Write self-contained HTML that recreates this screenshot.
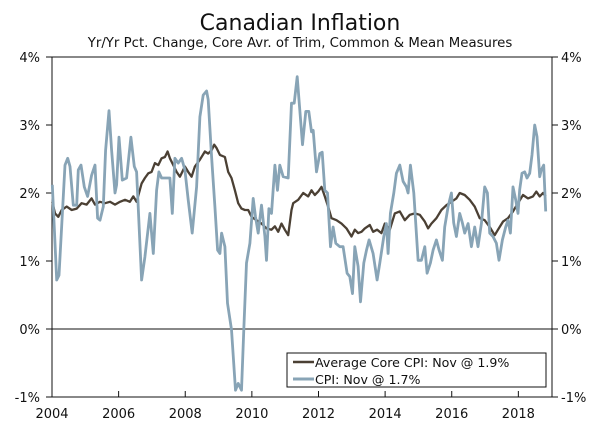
<!DOCTYPE html>
<html><head><meta charset="utf-8"><style>
body{margin:0;background:#fff;}
svg{display:block;font-family:"DejaVu Sans","Liberation Sans",sans-serif;}
</style></head><body>
<svg id="c" width="600" height="432">
<text x="300" y="30" text-anchor="middle" font-size="22" fill="#111">Canadian Inflation</text>
<text x="300" y="47" text-anchor="middle" font-size="13.3" fill="#111">Yr/Yr Pct. Change, Core Avr. of Trim, Common &amp; Mean Measures</text>
</svg>
<script>
const cpiDates=[2004.01,2004.14,2004.21,2004.39,2004.47,2004.54,2004.64,2004.74,2004.79,2004.87,2004.97,2005.07,2005.19,2005.29,2005.37,2005.44,2005.54,2005.61,2005.71,2005.79,2005.89,2005.94,2006.01,2006.11,2006.24,2006.37,2006.47,2006.54,2006.69,2006.79,2006.94,2007.04,2007.14,2007.21,2007.29,2007.54,2007.61,2007.69,2007.79,2007.89,2007.99,2008.09,2008.21,2008.34,2008.44,2008.54,2008.64,2008.69,2008.79,2008.89,2008.97,2009.04,2009.09,2009.19,2009.27,2009.39,2009.51,2009.59,2009.69,2009.76,2009.84,2009.94,2010.04,2010.11,2010.19,2010.29,2010.39,2010.44,2010.51,2010.59,2010.69,2010.77,2010.84,2010.94,2011.09,2011.19,2011.27,2011.36,2011.44,2011.52,2011.62,2011.71,2011.79,2011.84,2011.94,2012.04,2012.11,2012.19,2012.27,2012.36,2012.44,2012.52,2012.64,2012.74,2012.86,2012.94,2013.02,2013.09,2013.19,2013.26,2013.36,2013.44,2013.52,2013.64,2013.76,2013.84,2013.96,2014.04,2014.09,2014.16,2014.26,2014.34,2014.44,2014.54,2014.64,2014.69,2014.76,2014.86,2014.99,2015.09,2015.19,2015.26,2015.36,2015.44,2015.54,2015.62,2015.72,2015.79,2015.89,2015.99,2016.06,2016.14,2016.24,2016.32,2016.39,2016.49,2016.59,2016.69,2016.79,2016.89,2016.99,2017.07,2017.14,2017.24,2017.34,2017.42,2017.52,2017.62,2017.69,2017.76,2017.84,2017.92,2017.99,2018.04,2018.11,2018.19,2018.26,2018.34,2018.41,2018.49,2018.56,2018.64,2018.69,2018.76,2018.82];
const cpiValues=[2.12,0.72,0.79,2.41,2.51,2.39,1.82,1.82,2.34,2.41,2.09,1.95,2.26,2.41,1.63,1.60,1.80,2.63,3.21,2.63,2.0,2.12,2.82,2.19,2.22,2.82,2.39,2.31,0.72,1.06,1.70,1.11,2.04,2.31,2.22,2.22,1.70,2.51,2.44,2.51,2.34,1.90,1.41,2.09,3.12,3.44,3.50,3.37,2.53,1.80,1.16,1.11,1.41,1.21,0.38,-0.01,-0.90,-0.80,-0.90,0.03,0.97,1.26,1.92,1.65,1.41,1.82,1.36,1.01,1.77,1.70,2.41,2.04,2.41,2.24,2.22,3.32,3.32,3.71,3.22,2.71,3.20,3.20,2.90,2.92,2.31,2.58,2.60,2.04,2.00,1.21,1.50,1.26,1.21,1.21,0.82,0.77,0.52,1.21,0.92,0.40,0.97,1.16,1.31,1.11,0.72,0.97,1.36,1.55,1.11,1.70,2.00,2.29,2.41,2.17,2.09,2.00,2.41,2.00,1.01,1.01,1.21,0.82,0.97,1.16,1.31,1.16,1.01,1.50,1.80,2.00,1.56,1.36,1.70,1.56,1.41,1.55,1.21,1.50,1.21,1.55,2.09,2.00,1.41,1.36,1.26,1.01,1.31,1.50,1.60,1.41,2.09,1.90,1.70,2.05,2.29,2.31,2.22,2.29,2.56,3.00,2.83,2.24,2.34,2.41,1.73];
const coreDates=[2004.01,2004.09,2004.19,2004.29,2004.44,2004.59,2004.74,2004.89,2005.04,2005.19,2005.29,2005.44,2005.59,2005.74,2005.89,2006.04,2006.19,2006.34,2006.44,2006.54,2006.69,2006.79,2006.89,2006.99,2007.09,2007.19,2007.29,2007.39,2007.47,2007.54,2007.64,2007.74,2007.84,2007.99,2008.09,2008.19,2008.29,2008.44,2008.59,2008.69,2008.79,2008.87,2008.94,2009.04,2009.19,2009.29,2009.39,2009.49,2009.59,2009.69,2009.79,2009.89,2009.99,2010.14,2010.29,2010.44,2010.59,2010.69,2010.79,2010.89,2010.99,2011.09,2011.19,2011.24,2011.39,2011.54,2011.69,2011.79,2011.89,2011.99,2012.09,2012.19,2012.29,2012.39,2012.54,2012.69,2012.84,2012.99,2013.09,2013.19,2013.29,2013.39,2013.54,2013.64,2013.76,2013.89,2013.99,2014.14,2014.29,2014.44,2014.59,2014.74,2014.89,2015.04,2015.19,2015.29,2015.39,2015.54,2015.69,2015.84,2015.99,2016.14,2016.24,2016.39,2016.54,2016.69,2016.84,2016.99,2017.14,2017.29,2017.39,2017.54,2017.69,2017.84,2017.99,2018.14,2018.29,2018.44,2018.54,2018.64,2018.74,2018.82];
const coreValues=[1.87,1.70,1.65,1.75,1.80,1.75,1.77,1.85,1.83,1.92,1.83,1.87,1.85,1.87,1.83,1.87,1.90,1.87,1.95,1.87,2.14,2.22,2.29,2.31,2.44,2.41,2.51,2.53,2.61,2.51,2.41,2.31,2.24,2.39,2.31,2.24,2.39,2.49,2.61,2.58,2.63,2.71,2.66,2.56,2.53,2.31,2.22,2.04,1.85,1.77,1.75,1.75,1.65,1.60,1.55,1.48,1.46,1.51,1.43,1.55,1.46,1.38,1.75,1.85,1.90,2.00,1.95,2.04,1.97,2.02,2.09,1.95,1.80,1.63,1.60,1.55,1.48,1.36,1.46,1.41,1.43,1.48,1.53,1.43,1.46,1.41,1.55,1.46,1.70,1.73,1.60,1.68,1.70,1.68,1.58,1.48,1.55,1.63,1.75,1.82,1.87,1.92,2.00,1.97,1.90,1.80,1.63,1.60,1.50,1.38,1.46,1.58,1.63,1.73,1.85,1.97,1.92,1.95,2.02,1.95,2.00,1.95];
const yTicks=[4,3,2,1,0,-1];
const xTicks=[2004,2006,2008,2010,2012,2014,2016,2018];
const NS='http://www.w3.org/2000/svg';
const svg=document.getElementById('c');
const L=52,R=552,T=57,B=397,x0=2004,x1=2019.01,yMin=-1,yMax=4;
const xs=v=>L+(v-x0)/(x1-x0)*(R-L);
const ys=v=>B-(v-yMin)/(yMax-yMin)*(B-T);
function mk(tag,attrs,parent){const e=document.createElementNS(NS,tag);for(const k in attrs)e.setAttribute(k,attrs[k]);(parent||svg).appendChild(e);return e;}
const frame=mk('rect',{x:L,y:T,width:R-L,height:B-T,fill:'none',stroke:'#111','stroke-width':1});


const zero=mk('line',{x1:L,x2:R,y1:ys(0),y2:ys(0),stroke:'#111','stroke-width':1});


yTicks.forEach(t=>{
  const y=ys(t);
  mk('line',{x1:L-6,x2:L,y1:y,y2:y,stroke:'#111'});
  mk('line',{x1:R,x2:R+6,y1:y,y2:y,stroke:'#111'});
  const a=mk('text',{x:40,y:y+5,'text-anchor':'end','font-size':13,fill:'#111'});a.textContent=t+'%';
  
  
  const b=mk('text',{x:561,y:y+5,'font-size':13,fill:'#111'});b.textContent=t+'%';
  
  
});
xTicks.forEach(t=>{
  const x=xs(t);
  mk('line',{x1:x,x2:x,y1:B,y2:B-6,stroke:'#111'});
  const a=mk('text',{x:x,y:418,'text-anchor':'middle','font-size':13,fill:'#111'});a.textContent=t;
  
  
});
function line(d,v,color,w,name){
  const p=d.map((t,i)=>(i?'L':'M')+xs(t).toFixed(1)+','+ys(v[i]).toFixed(1)).join('');
  const e=mk('path',{d:p,fill:'none',stroke:color,'stroke-width':w,'stroke-linejoin':'round'});
  
  
}
line(coreDates,coreValues,'#4b4034',2.3,'core-cpi-line');
line(cpiDates,cpiValues,'#88a4b6',2.8,'cpi-line');
const lg=mk('g',{});


mk('rect',{x:287,y:353,width:259,height:34,fill:'#fff',stroke:'#111'},lg);
mk('line',{x1:293,x2:314,y1:362,y2:362,stroke:'#4b4034','stroke-width':2.5},lg);
mk('line',{x1:293,x2:314,y1:379,y2:379,stroke:'#88a4b6','stroke-width':3},lg);
const t1=mk('text',{x:315,y:367,'font-size':12.6,fill:'#111'},lg);t1.textContent='Average Core CPI: Nov @ 1.9%';


const t2=mk('text',{x:315,y:384,'font-size':12.6,fill:'#111'},lg);t2.textContent='CPI: Nov @ 1.7%';


</script>
</body></html>
